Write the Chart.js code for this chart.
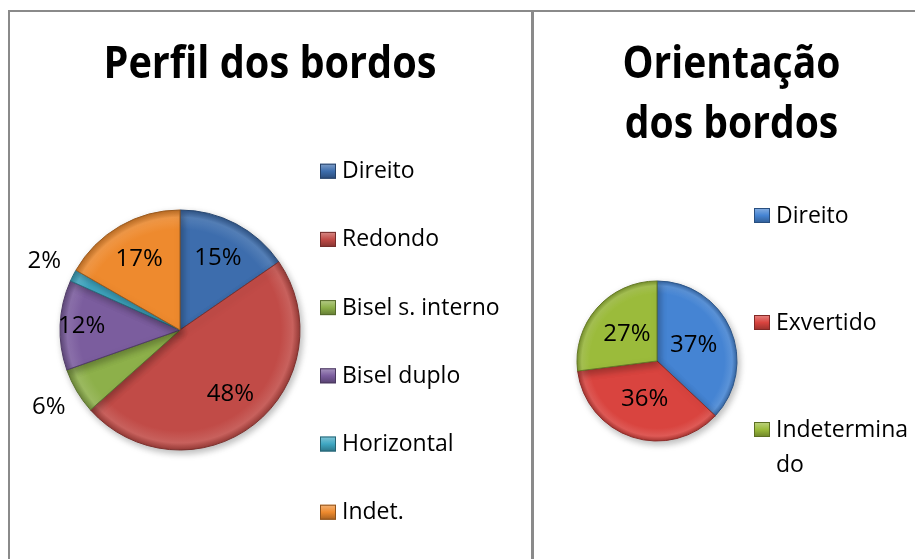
<!DOCTYPE html>
<html>
<head>
<meta charset="utf-8">
<script src="https://cdn.jsdelivr.net/npm/chart.js@4/dist/chart.umd.min.js"></script>
<style>
  html, body { margin: 0; padding: 0; background: #fff; width: 915px; height: 559px; overflow: hidden; position: relative; }
  .line { position: absolute; background: #8a8a8a; }
  .box { position: absolute; }
</style>
</head>
<body>
<div class="line" style="left:8px;top:10px;width:907px;height:2px"></div>
<div class="line" style="left:8px;top:10px;width:2px;height:549px"></div>
<div class="line" style="left:531px;top:10px;width:3px;height:549px"></div>
<div class="box" style="left:10px;top:12px;width:520px;height:547px"><canvas id="chart-perfil"></canvas></div>
<div class="box" style="left:548px;top:12px;width:367px;height:547px"><canvas id="chart-orient"></canvas></div>
<script>
// dados
const perfilLabels = ['Direito', 'Redondo', 'Bisel s. interno', 'Bisel duplo', 'Horizontal', 'Indet.'];
const perfilValues = [15.4, 48.0, 6.2, 12.1, 1.6, 16.7];
const perfilColors = ['#3d6dad', '#c14b47', '#8db04a', '#7b5d9e', '#3fa7c2', '#ee8a2e'];

const orientLabels = ['Direito', 'Exvertido', ['Indetermina', 'do']];
const orientValues = [37, 36, 27];
const orientColors = ['#4584d3', '#d9443f', '#9bbb3b'];

const TEXT_FONT = "'Open Sans', sans-serif";

function shade(hex, amt) {
  let r = parseInt(hex.slice(1, 3), 16), g = parseInt(hex.slice(3, 5), 16), b = parseInt(hex.slice(5, 7), 16);
  const f = v => Math.round(amt >= 0 ? v + (255 - v) * amt : v * (1 + amt));
  return `rgb(${f(r)},${f(g)},${f(b)})`;
}

// cor com um leve efeito de bisel
function bevel(colors) {
  return (c) => {
    const base = colors[c.dataIndex];
    const area = c.chart.chartArea;
    const ctrl = c.chart.getDatasetMeta(0).controller;
    if (!area || !ctrl || !ctrl.outerRadius) return base;
    const cx = (area.left + area.right) / 2, cy = (area.top + area.bottom) / 2;
    const R = ctrl.outerRadius;
    const g = c.chart.ctx.createRadialGradient(cx, cy, 0, cx, cy, R);
    g.addColorStop(0, base);
    g.addColorStop(0.84, base);
    g.addColorStop(0.94, shade(base, 0.12));
    g.addColorStop(1, shade(base, -0.22));
    return g;
  };
}

const pieShadow = {
  id: 'pieShadow',
  beforeDatasetsDraw(chart) {
    const ctx = chart.ctx;
    ctx.save();
    ctx.shadowColor = 'rgba(0,0,0,0.28)';
    ctx.shadowBlur = 7;
    ctx.shadowOffsetX = 2;
    ctx.shadowOffsetY = 3;
  },
  afterDatasetsDraw(chart) {
    chart.ctx.restore();
  }
};

// título centrado no canvas inteiro
const bigTitle = {
  id: 'bigTitle',
  afterDraw(chart, args, opts) {
    const ctx = chart.ctx;
    const lines = Array.isArray(opts.text) ? opts.text : [opts.text];
    ctx.save();
    ctx.font = opts.font;
    ctx.fillStyle = '#000';
    ctx.textAlign = 'center';
    ctx.textBaseline = 'alphabetic';
    const sx = opts.width / ctx.measureText(lines[0]).width;
    lines.forEach((t, k) => {
      ctx.save();
      ctx.translate(chart.width / 2, opts.y + k * opts.lineStep);
      ctx.scale(sx, 1);
      ctx.fillText(t, 0, 0);
      ctx.restore();
    });
    ctx.restore();
  }
};

// rótulos de porcentagem
const pctLabels = {
  id: 'pctLabels',
  afterDatasetsDraw(chart, args, opts) {
    const ctx = chart.ctx;
    const meta = chart.getDatasetMeta(0);
    const values = chart.data.datasets[0].data;
    const total = values.reduce((a, b) => a + b, 0);
    ctx.save();
    ctx.font = opts.font;
    ctx.fillStyle = '#000';
    ctx.textAlign = 'center';
    ctx.textBaseline = 'middle';
    meta.data.forEach((arc, i) => {
      const pct = values[i] / total * 100;
      const mid = (arc.startAngle + arc.endAngle) / 2;
      const f = pct < 10 ? opts.outside : (pct < 13 ? opts.mid : opts.inside);
      const r = arc.outerRadius * f;
      ctx.fillText(Math.round(pct) + '%', arc.x + Math.cos(mid) * r, arc.y + Math.sin(mid) * r);
    });
    ctx.restore();
  }
};

// legenda lateral
const sideLegend = {
  id: 'sideLegend',
  afterDraw(chart, args, opts) {
    const ctx = chart.ctx;
    const labels = chart.data.labels;
    ctx.save();
    ctx.font = opts.font;
    ctx.textAlign = 'left';
    ctx.textBaseline = 'middle';
    labels.forEach((lab, i) => {
      const y = opts.y + i * opts.step;
      const col = opts.colors[i];
      const g = ctx.createLinearGradient(0, y - 7, 0, y + 8);
      g.addColorStop(0, shade(col, 0.35));
      g.addColorStop(0.5, col);
      g.addColorStop(1, shade(col, -0.3));
      ctx.fillStyle = g;
      ctx.fillRect(opts.x, y - 7, 16, 15);
      ctx.strokeStyle = shade(col, -0.4);
      ctx.lineWidth = 1;
      ctx.strokeRect(opts.x + 0.5, y - 6.5, 15, 14);
      ctx.fillStyle = '#000';
      const lines = Array.isArray(lab) ? lab : [lab];
      lines.forEach((t, k) => ctx.fillText(t, opts.x + 22, y + 1 + k * opts.lineStep));
    });
    ctx.restore();
  }
};

function pieConfig(labels, values, colors, padding, radius, titleOpts, legendOpts, labelOpts) {
  return {
    type: 'pie',
    data: {
      labels: labels,
      datasets: [{
        data: values,
        backgroundColor: bevel(colors),
        borderColor: colors.map(c => shade(c, -0.35)),
        borderWidth: 1,
        radius: radius
      }]
    },
    options: {
      responsive: true,
      maintainAspectRatio: false,
      animation: false,
      layout: { padding: padding },
      plugins: {
        legend: { display: false },
        tooltip: { enabled: false },
        title: { display: false },
        bigTitle: Object.assign({ font: 'bold 45px ' + TEXT_FONT, lineStep: 60 }, titleOpts),
        sideLegend: Object.assign({ colors: colors, font: '23px ' + TEXT_FONT, lineStep: 35 }, legendOpts),
        pctLabels: Object.assign({ font: '24px ' + TEXT_FONT }, labelOpts)
      }
    },
    plugins: [pieShadow, pctLabels, sideLegend, bigTitle]
  };
}

new Chart(document.getElementById('chart-perfil'), pieConfig(
  perfilLabels, perfilValues, perfilColors,
  { left: 40, right: 220, top: 89, bottom: 0 }, 120,
  { text: 'Perfil dos bordos', y: 66, width: 333 },
  { x: 310, y: 158.7, step: 68.2 },
  { inside: 0.68, mid: 0.82, outside: 1.27 }
));

new Chart(document.getElementById('chart-orient'), pieConfig(
  orientLabels, orientValues, orientColors,
  { left: 28, right: 177, top: 151, bottom: 0 }, 80,
  { text: ['Orientação', 'dos bordos'], y: 66, width: 218 },
  { x: 206, y: 203, step: 107 },
  { inside: 0.5, mid: 0.5, outside: 1.27 }
));
</script>
</body>
</html>
